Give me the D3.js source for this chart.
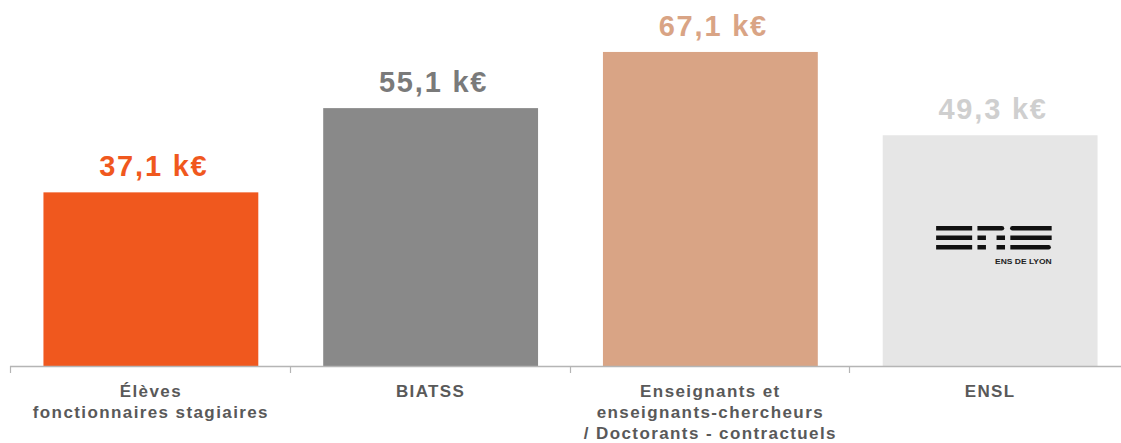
<!DOCTYPE html>
<html>
<head>
<meta charset="utf-8">
<script src="https://cdn.jsdelivr.net/npm/d3@7"></script>
<style>
  html, body { margin: 0; padding: 0; background: #ffffff; }
  svg { display: block; }
</style>
</head>
<body>
<svg id="chart" width="1121" height="443"></svg>
<script>
// Average salary by staff category (k€)
const categories = [
  ["Élèves", "fonctionnaires stagiaires"],
  ["BIATSS"],
  ["Enseignants et", "enseignants-chercheurs", "/ Doctorants - contractuels"],
  ["ENSL"]
];
const values = [37.1, 55.1, 67.1, 49.3];
const valueLabels = ["37,1 k€", "55,1 k€", "67,1 k€", "49,3 k€"];
const barColors = ["#F0581E", "#898989", "#D9A485", "#E6E6E6"];
const labelColors = ["#F0581E", "#7A7A7A", "#D9A485", "#CFCFCF"];

const svg = d3.select("#chart");
const margin = { left: 11, right: -9, top: 0, baseline: 366 };

const keys = categories.map((c, i) => i);
const x = d3.scaleBand()
  .domain(keys)
  .range([margin.left, 1121 - margin.right])
  .paddingInner(0.232)
  .paddingOuter(0.116);

const y = d3.scaleLinear()
  .domain([0, 78.2])
  .range([margin.baseline, margin.top]);

// Bars
svg.append("g").selectAll("rect")
  .data(values)
  .join("rect")
  .attr("x", (d, i) => x(i))
  .attr("y", d => y(d))
  .attr("width", x.bandwidth())
  .attr("height", d => y(0) - y(d))
  .attr("fill", (d, i) => barColors[i]);

// Value labels above bars
svg.append("g").selectAll("text")
  .data(values)
  .join("text")
  .attr("x", (d, i) => x(i) + x.bandwidth() / 2 + 3)
  .attr("y", d => y(d) - 16)
  .attr("text-anchor", "middle")
  .attr("font-family", "Liberation Sans, Arial, sans-serif")
  .attr("font-weight", "bold")
  .attr("font-size", 29)
  .attr("letter-spacing", 1.8)
  .attr("fill", (d, i) => labelColors[i])
  .text((d, i) => valueLabels[i]);

// Category axis: baseline with tick marks between categories
const step = x.step();
const axisG = svg.append("g");
axisG.append("line")
  .attr("x1", 10).attr("x2", 1121)
  .attr("y1", margin.baseline + 0.5).attr("y2", margin.baseline + 0.5)
  .attr("stroke", "#B5B5B5").attr("stroke-width", 1.5);
axisG.selectAll("line.tick")
  .data(d3.range(keys.length + 1))
  .join("line")
  .attr("class", "tick")
  .attr("x1", i => Math.round(x(0) - x.paddingOuter() * step + i * step) - 0.5)
  .attr("x2", i => Math.round(x(0) - x.paddingOuter() * step + i * step) - 0.5)
  .attr("y1", margin.baseline)
  .attr("y2", margin.baseline + 7)
  .attr("stroke", "#B5B5B5").attr("stroke-width", 1.2);

// Category labels (multi-line)
const catG = svg.append("g");
categories.forEach((lines, i) => {
  const t = catG.append("text")
    .attr("x", x(i) + x.bandwidth() / 2)
    .attr("y", 397)
    .attr("text-anchor", "middle")
    .attr("font-family", "Liberation Sans, Arial, sans-serif")
    .attr("font-weight", "bold")
    .attr("font-size", 17)
    .attr("letter-spacing", 1.4)
    .attr("fill", "#595959");
  lines.forEach((ln, j) => {
    t.append("tspan")
      .attr("x", x(i) + x.bandwidth() / 2)
      .attr("dy", j === 0 ? 0 : 21)
      .text(ln);
  });
});

// ENS de Lyon logo inside the last bar
const cx = x(3) + x.bandwidth() / 2;
const logo = svg.append("g").attr("transform", `translate(${cx - 54},226) scale(1.06,1)`);
const stripe = 4.5, rows = [0, 9.5, 19];
// E: three full stripes
rows.forEach(r => logo.append("rect").attr("x", 0).attr("y", r).attr("width", 34).attr("height", stripe).attr("fill", "#111"));
// N: full top, split middle and bottom
logo.append("path").attr("d", `M39,0 H62 a2.25,2.25 0 0 1 0,${stripe} H39 Z`).attr("fill", "#111");
[rows[1], rows[2]].forEach(r => {
  logo.append("rect").attr("x", 39).attr("y", r).attr("width", 8).attr("height", stripe).attr("fill", "#111");
  logo.append("rect").attr("x", 57).attr("y", r).attr("width", 8).attr("height", stripe).attr("fill", "#111");
});
// S: three stripes with rounded ends
logo.append("path").attr("d", `M72,${stripe} a2.25,2.25 0 0 1 0,-${stripe} H109 V${stripe} Z`).attr("fill", "#111");
logo.append("rect").attr("x", 70).attr("y", rows[1]).attr("width", 39).attr("height", stripe).attr("fill", "#111");
logo.append("path").attr("d", `M70,${rows[2]} H106 a2.25,2.25 0 0 1 0,${stripe} H70 Z`).attr("fill", "#111");
logo.append("text")
  .attr("x", 109).attr("y", 38)
  .attr("text-anchor", "end")
  .attr("font-family", "Liberation Sans Narrow, Arial Narrow, sans-serif")
  .attr("font-weight", "bold")
  .attr("font-size", 8)
  .attr("fill", "#222")
  .text("ENS DE LYON");
</script>
</body>
</html>
